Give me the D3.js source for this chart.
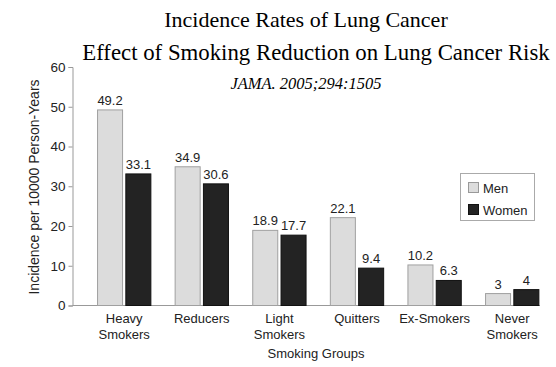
<!DOCTYPE html>
<html><head><meta charset="utf-8">
<script src="https://cdn.jsdelivr.net/npm/d3@7"></script>
<style>body{margin:0;background:#fff}svg{display:block}</style>
</head><body>
<svg id="c" width="556" height="367"></svg>
<script>
const categories = [["Heavy","Smokers"],["Reducers"],["Light","Smokers"],["Quitters"],["Ex-Smokers"],["Never","Smokers"]];
const seriesNames = ["Men","Women"];
const men = [49.2, 34.9, 18.9, 22.1, 10.2, 3];
const women = [33.1, 30.6, 17.7, 9.4, 6.3, 4];
const yTicks = [0,10,20,30,40,50,60];
const titles = ["Incidence Rates of Lung Cancer","Effect of Smoking Reduction on Lung Cancer Risk"];
const subtitle = "JAMA. 2005;294:1505";

const svg = d3.select("#c");
const sans = "Liberation Sans, Arial, sans-serif";
const serif = "Liberation Serif, Times New Roman, serif";
const colors = {Men:"#dcdcdc", Women:"#232323"};
const strokes = {Men:"#a0a0a0", Women:"#111"};

const y = d3.scaleLinear().domain([0,60]).range([305.5,67]);
const x = d3.scaleBand().domain(d3.range(categories.length)).range([85.4,551]).paddingInner(0.3).paddingOuter(0.15);
const xs = d3.scaleBand().domain(seriesNames).range([0,x.bandwidth()]).paddingInner(0.08);

// titles
svg.append("text").attr("x",306).attr("y",27).attr("text-anchor","middle")
  .style("font-family",serif).style("font-size","22px").text(titles[0]);
svg.append("text").attr("x",316).attr("y",60).attr("text-anchor","middle")
  .style("font-family",serif).style("font-size","22.8px").text(titles[1]);
svg.append("text").attr("x",306).attr("y",89).attr("text-anchor","middle")
  .style("font-family",serif).style("font-style","italic").style("font-size","16.5px").text(subtitle);

// y axis
const ya = svg.append("g").attr("transform","translate(72.5,0)")
  .call(d3.axisLeft(y).tickValues(yTicks).tickSize(4).tickPadding(3));
ya.select(".domain").attr("stroke","#999");
ya.selectAll(".tick line").attr("stroke","#999");
ya.selectAll("text").style("font-family",sans).style("font-size","13.5px").attr("fill","#222");

// x axis baseline
svg.append("line").attr("x1",72.5).attr("x2",540).attr("y1",305.5).attr("y2",305.5).attr("stroke","#999");

// bars
const data = categories.map((c,i)=>({i, vals:[{k:"Men",v:men[i]},{k:"Women",v:women[i]}]}));
const g = svg.selectAll(".grp").data(data).join("g").attr("transform",d=>`translate(${x(d.i)},0)`);
g.selectAll("rect").data(d=>d.vals).join("rect")
  .attr("x",d=>xs(d.k)+0.5).attr("y",d=>y(d.v))
  .attr("width",xs.bandwidth()-1).attr("height",d=>y(0)-y(d.v))
  .attr("fill",d=>colors[d.k]).attr("stroke",d=>strokes[d.k]).attr("stroke-width",1);
g.selectAll("text.val").data(d=>d.vals).join("text").attr("class","val")
  .attr("x",d=>xs(d.k)+xs.bandwidth()/2).attr("y",d=>y(d.v)-5)
  .attr("text-anchor","middle").style("font-family",sans).style("font-size","13px").attr("fill","#222")
  .text(d=>d.v);

// category labels
categories.forEach((c,i)=>{
  const t = svg.append("text").attr("text-anchor","middle").style("font-family",sans).style("font-size","13px").attr("fill","#222");
  c.forEach((line,j)=>t.append("tspan").attr("x",x(i)+x.bandwidth()/2).attr("y",323+j*16).text(line));
});

// axis titles
svg.append("text").attr("x",316).attr("y",358).attr("text-anchor","middle")
  .style("font-family",sans).style("font-size","13px").attr("fill","#222").text("Smoking Groups");
svg.append("text").attr("transform","translate(39,187) rotate(-90)").attr("text-anchor","middle")
  .style("font-family",sans).style("font-size","14px").attr("fill","#222").text("Incidence per 10000 Person-Years");

// legend
const lg = svg.append("g").attr("transform","translate(460,173)");
lg.append("rect").attr("x",0.5).attr("y",0.5).attr("width",74).attr("height",47).attr("fill","#fff").attr("stroke","#aaa");
seriesNames.forEach((s,i)=>{
  lg.append("rect").attr("x",8.5).attr("y",9.5+i*22).attr("width",10).attr("height",10)
    .attr("fill",colors[s]).attr("stroke",i?"#111":"#999");
  lg.append("text").attr("x",23).attr("y",19.5+i*22).style("font-family",sans).style("font-size","13px").attr("fill","#222").text(s);
});
</script>
</body></html>
